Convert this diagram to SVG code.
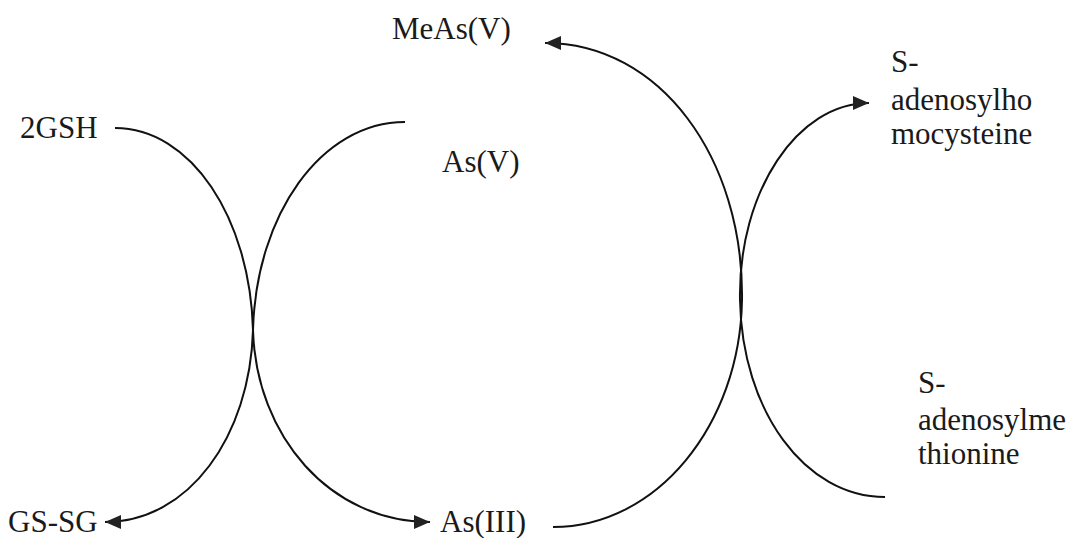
<svg xmlns="http://www.w3.org/2000/svg" width="1082" height="538" viewBox="0 0 1082 538">
  <style>
    .t { font-family: 'Liberation Serif', 'Times New Roman', Times, serif; font-size: 31px; fill: #1a1a1a; }
    .c { fill: none; stroke: #111; stroke-width: 2; }
  </style>
  <defs>
    <marker id="ah" markerUnits="userSpaceOnUse" markerWidth="18" markerHeight="14" refX="16" refY="7" orient="auto">
      <path d="M0,0 L16,7 L0,14 z" fill="#222"/>
    </marker>
  </defs>
  <rect width="1082" height="538" fill="#ffffff"/>
  <g id="connectors">
    <path class="c" d="M115,128 C191,128 250,218 253,330 C256,436 330,522 430,522" marker-end="url(#ah)"/>
    <path class="c" d="M405,122 C321,122 256,215 253,330 C250,436 189,522 105,522" marker-end="url(#ah)"/>
    <path class="c" d="M553,527 C657,527 740,425 742,300 C744,158 660,43 545,43" marker-end="url(#ah)"/>
    <path class="c" d="M885,497 C805,497 742,411 740,300 C738,191 798,103 869,103" marker-end="url(#ah)"/>
  </g>
  <g id="meas-v"><text class="t" x="392" y="39" font-family="Liberation Serif, serif">MeAs(V)</text></g>
  <g id="gsh"><text class="t" x="20" y="138" font-family="Liberation Serif, serif">2GSH</text></g>
  <g id="as-v"><text class="t" x="442" y="172" font-family="Liberation Serif, serif">As(V)</text></g>
  <g id="sah" font-family="Liberation Serif, serif">
    <text class="t" x="891" y="72">S-</text>
    <text class="t" x="891" y="110">adenosylho</text>
    <text class="t" x="891" y="144">mocysteine</text>
  </g>
  <g id="sam" font-family="Liberation Serif, serif">
    <text class="t" x="918" y="393">S-</text>
    <text class="t" x="918" y="430">adenosylme</text>
    <text class="t" x="918" y="464">thionine</text>
  </g>
  <g id="gssg"><text class="t" x="8" y="532" font-family="Liberation Serif, serif">GS-SG</text></g>
  <g id="as-iii"><text class="t" x="440" y="532" font-family="Liberation Serif, serif">As(III)</text></g>
</svg>
